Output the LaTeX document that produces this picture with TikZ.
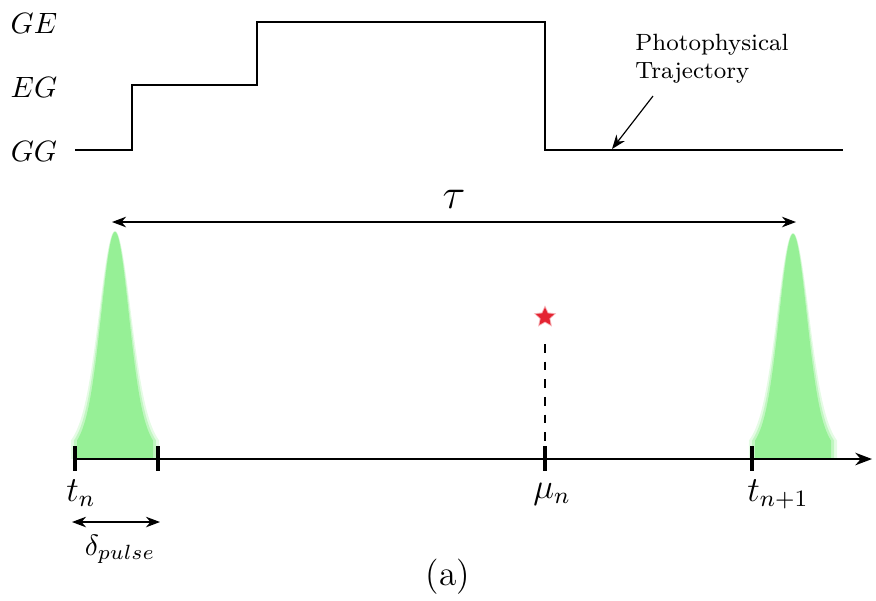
\documentclass[tikz,border=0pt]{standalone}
\usepackage{amsmath,amssymb}
\usetikzlibrary{arrows.meta,calc,positioning,shapes.geometric}
\definecolor{pulsegreen}{RGB}{150,240,150}
\definecolor{starred}{RGB}{228,36,50}

\begin{document}
\begin{tikzpicture}[>=Stealth, x=0.34pt, y=-0.34pt,
    tick/.style={line width=1.4pt},
    traj/.style={line width=0.7pt}]
    \useasboundingbox (0,0) rectangle (876,600);
    % 状态标签
    \node (ge) at (34,23) {$GE$};
    \node (eg) at (34,87) {$EG$};
    \node (gg) at (34,151) {$GG$};
    % 光物理轨迹
    \draw[traj] (75,150) -- (132,150) -- (132,85) -- (257,85) -- (257,22)
      -- (545,22) -- (545,150) -- (843,150);
    \coordinate (hit) at (612,149);
    \node[align=left, font=\footnotesize] (ptraj) at (712,59)
      {Photophysical\\Trajectory};
    \coordinate (ptail) at (653,96);
    \draw[->, thin] (ptail) -- (hit);
    % 激光脉冲（边缘模糊）
    \foreach \c/\h in {115/227,793/225} {
      \foreach \s/\o in {1.16/0.25,1.08/0.45,1/1} {
        \fill[pulsegreen, opacity=\o] ({\c-38*\s},459)
          -- plot[domain=-38*\s:38*\s, samples=90]
          ({\c+\x}, {459-\h*(0.97+0.03*\s)*(0.75*exp(-(\x/\s)^2/338)+0.25*exp(-(\x/\s)^2/1152))})
          -- ({\c+38*\s},459) -- cycle;
      }
    }
    % 脉冲间隔 tau
    \coordinate (taul) at (112,222);
    \coordinate (taur) at (796,222);
    \draw[<->] (taul) -- (taur) node[midway, above=1pt] {\Large $\tau$};
    % 时间轴与刻度
    \coordinate (tn) at (75,459);
    \coordinate (tp) at (158,459);
    \coordinate (mu) at (545,459);
    \coordinate (tn1) at (752,459);
    \coordinate (axend) at (872,459);
    \draw[->, semithick] (tn) -- (axend);
    \foreach \t in {tn,tp,mu,tn1}
      \draw[tick] ($(\t)+(0,-13)$) -- ($(\t)+(0,12)$);
    % 发射光子
    \node[star, star points=5, star point ratio=2.1, fill=starred, opacity=0.35,
      minimum size=8pt, inner sep=0pt] at (545,317) {};
    \node[star, star points=5, star point ratio=2.1, fill=starred,
      minimum size=6.5pt, inner sep=0pt] (photon) at (545,317) {};
    \draw[dashed, thin] ($(photon)+(0,27)$) -- ($(mu)+(0,-13)$);
    % 轴标签
    \node[font=\large] (ltn) at (81,493) {$t_n$};
    \node[font=\large] (lmu) at (552,494) {$\mu_n$};
    \node[font=\large] (ltn1) at (778,494) {$t_{n+1}$};
    % 脉冲宽度
    \coordinate (dl) at (72,522);
    \coordinate (dr) at (160,522);
    \draw[<->, thin] (dl) -- (dr);
    \node (ldelta) at (120,549) {$\delta_{pulse}$};
    \node[font=\large] (cap) at (448,577) {(a)};
\end{tikzpicture}
\end{document}
